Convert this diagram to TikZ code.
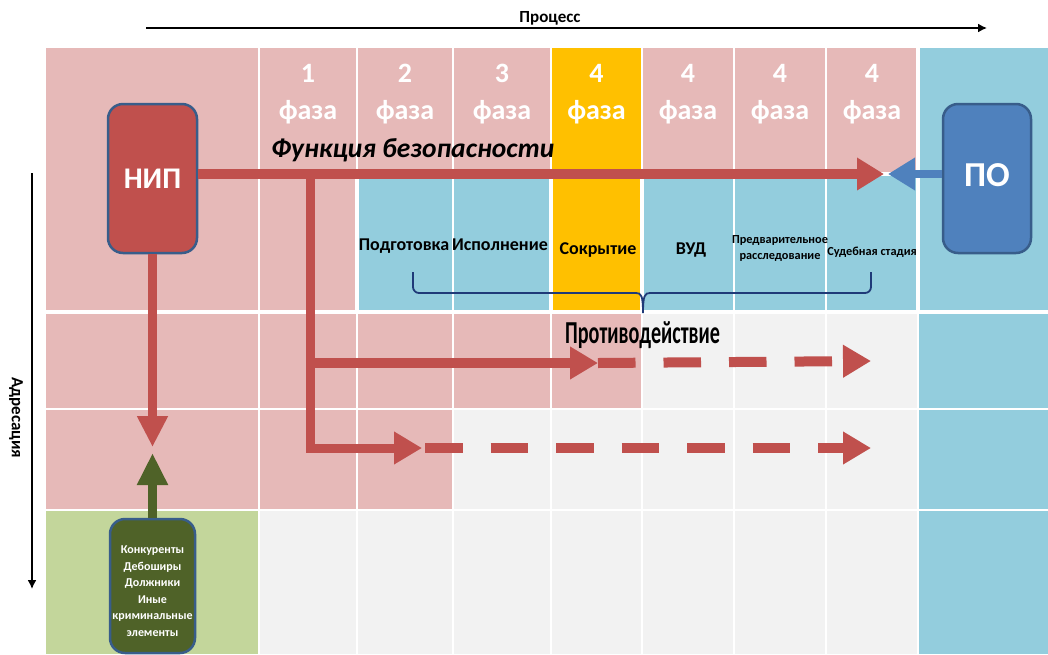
\documentclass[tikz,border=0pt]{standalone}
\usepackage{fontspec}
\setmainfont{Carlito}
\usetikzlibrary{arrows.meta}
\definecolor{pinkc}{HTML}{E6B9B8}
\definecolor{bluec}{HTML}{93CDDD}
\definecolor{grayc}{HTML}{F2F2F2}
\definecolor{greenc}{HTML}{C3D69B}
\definecolor{yellowc}{HTML}{FFC000}
\definecolor{redc}{HTML}{C0504D}
\definecolor{boxblue}{HTML}{4F81BD}
\definecolor{boxborder}{HTML}{385D8A}
\definecolor{darkgreen}{HTML}{4F6228}
\definecolor{bracec}{HTML}{1F3A78}
\tikzset{
  gridline/.style={white, line width=2pt},
  thickgrid/.style={white, line width=4pt},
  roundbox/.style={rounded corners=15pt, line width=2.5pt, draw=boxborder, inner sep=0pt, text=white, font=\bfseries, align=center},
  phasenum/.style={text=white, font=\bfseries\fontsize{28}{30}\selectfont, anchor=base, inner sep=0pt},
  stagelbl/.style={text=black, font=\bfseries\fontsize{18}{20}\selectfont, anchor=base, inner sep=0pt},
  smalllbl/.style={text=black, font=\bfseries\fontsize{12.3}{16}\selectfont, anchor=base, inner sep=0pt},
  redarrow/.style={draw=redc, line width=10pt, -{Triangle[length=27pt,width=31pt]}},
  redthin/.style={draw=redc, line width=9pt, -{Triangle[length=28pt,width=31pt]}},
  dashline/.style={dash pattern=on 37.5pt off 28pt},
  axisarrow/.style={draw=black, line width=1.6pt, -{Latex[length=9pt,width=9pt]}},
}
\begin{document}
\begin{tikzpicture}[x=1pt,y=-1pt]
\useasboundingbox (0,0) rectangle (1048,654);
% ---- background cells ----
\fill[white] (0,0) rectangle (1048,654);
% row 1
\fill[pinkc] (46,48) rectangle (357,312);
\fill[pinkc] (357,48) rectangle (918,172);
\fill[bluec] (357,176) rectangle (918,312);
\fill[yellowc] (551,48) rectangle (642,312);
\fill[bluec] (918,48) rectangle (1048,654);
% row 2
\fill[pinkc] (46,312) rectangle (642,409);
\fill[grayc] (642,312) rectangle (918,409);
% row 3
\fill[pinkc] (46,409) rectangle (453,510);
\fill[grayc] (453,409) rectangle (918,510);
% row 4
\fill[greenc] (46,510) rectangle (259,654);
\fill[grayc] (259,510) rectangle (918,654);
% ---- white grid lines ----
\foreach \xx in {259,357,453,734,826} {\draw[gridline] (\xx,48) -- (\xx,654);}
\draw[gridline] (551,48) -- (551,654);
\draw[gridline] (642,48) -- (642,654);
\draw[thickgrid] (551,174) -- (551,312);
\draw[thickgrid] (642,174) -- (642,312);
\draw[thickgrid] (357,174) -- (357,312);
\draw[thickgrid] (918,48) -- (918,312);
\draw[gridline] (918,312) -- (918,654);
\draw[thickgrid] (46,312) -- (1048,312);
\draw[gridline] (46,409) -- (1048,409);
\draw[gridline] (46,510) -- (1048,510);
\draw[thickgrid] (357,174) -- (918,174);
% ---- phase headers ----
\foreach \cx/\num in {308/1,405/2,502/3,596.5/4,688/4,780/4,872/4} {
  \node[phasenum] (n\num\cx) at (\cx,82) {\num};
  \node[phasenum] (f\cx) at (\cx,119) {фаза};
}
% ---- axes ----
\node[font=\bfseries\fontsize{17}{19}\selectfont, anchor=base, inner sep=0pt] (proc) at (550,22.5) {Процесс};
\coordinate (pa) at (146,28);
\coordinate (pb) at (987,28);
\draw[axisarrow] (pa) -- (pb);
\node[font=\bfseries\fontsize{17}{19}\selectfont, rotate=-90, inner sep=0pt] (adr) at (16,418) {Адресация};
\coordinate (aa) at (32,173);
\coordinate (ab) at (32,589);
\draw[axisarrow] (aa) -- (ab);
% ---- boxes ----
\node[roundbox, fill=redc, minimum width=89pt, minimum height=149pt, font=\bfseries\fontsize{30}{32}\selectfont] (nip) at (152.5,178.5) {НИП};
\node[roundbox, fill=boxblue, minimum width=88pt, minimum height=149pt] (po) at (987,178.5) {};
\node[text=white, font=\bfseries\fontsize{35}{37}\selectfont, inner sep=0pt] (potext) at (987,175) {ПО};
\node[roundbox, fill=darkgreen, minimum width=85pt, minimum height=134pt] (grn) at (152.5,586) {};
\node[text=white, align=center, inner sep=0pt, font=\bfseries\fontsize{12}{16.5}\selectfont] (grntext) at (152.5,591) {Конкуренты\\Дебоширы\\Должники\\Иные\\криминальные\\элементы};
% ---- labels ----
\node[font=\bfseries\itshape\fontsize{27.5}{30}\selectfont, anchor=base west, inner sep=0pt] (func) at (271,157) {Функция безопасности};
\node[stagelbl] (s1) at (404,250) {Подготовка};
\node[stagelbl] (s2) at (500,250) {Исполнение};
\node[stagelbl] (s3) at (598,254) {Сокрытие};
\node[stagelbl] (s4) at (691,254) {ВУД};
\node[smalllbl] (s5a) at (780,243) {Предварительное};
\node[smalllbl] (s5b) at (780,259) {расследование};
\node[smalllbl] (s6) at (872,255) {Судебная стадия};
\node[font=\bfseries\fontsize{32}{34}\selectfont, anchor=base west, inner sep=0pt] (prot) at (565,343) {\scalebox{0.63}[1]{Противодействие}};
% ---- brace ----
\draw[bracec, line width=1.8pt, rounded corners=6pt] (413,272) -- (413,293) -- (636,293);
\draw[bracec, line width=1.8pt, rounded corners=6pt] (650,293) -- (871,293) -- (871,272);
\draw[bracec, line width=1.8pt] (636,293) .. controls (641,293) and (643,295) .. (643,313) .. controls (643,295) and (645,293) .. (650,293);
% ---- arrows ----
\coordinate (mainend) at (884,174);
\draw[redarrow] (nip.east |- 0,174) -- (mainend);
\coordinate (poend) at (888,174);
\draw[draw=boxblue, line width=8pt, -{Triangle[length=27pt,width=31pt]}] (po.west |- 0,174) -- (poend);
\coordinate (nipdown) at (152.5,447);
\draw[redarrow, line width=9pt, -{Triangle[length=31pt,width=29pt]}] (nip.south) -- (nipdown);
\coordinate (grnup) at (152.5,453);
\draw[draw=darkgreen, line width=9pt, -{Triangle[length=32pt,width=29pt]}] (grn.north) -- (grnup);
% vertical branch
\coordinate (br0) at (310,169);
\coordinate (br2) at (310,448);
\coordinate (b2end) at (422,448);
\draw[redthin] (br0) -- (br2) -- (b2end);
\coordinate (br1) at (310,363);
\coordinate (b1end) at (598,363);
\draw[redthin, line width=10pt] (br1) -- (b1end);
% dashed continuations
\coordinate (d1s) at (598,363);
\coordinate (d1e) at (871,361);
\draw[redthin, line width=10pt, dashline] (d1s) -- (d1e);
\coordinate (d2s) at (425,448);
\coordinate (d2e) at (871,448);
\draw[redthin, line width=10pt, dashline] (d2s) -- (d2e);
\end{tikzpicture}
\end{document}
